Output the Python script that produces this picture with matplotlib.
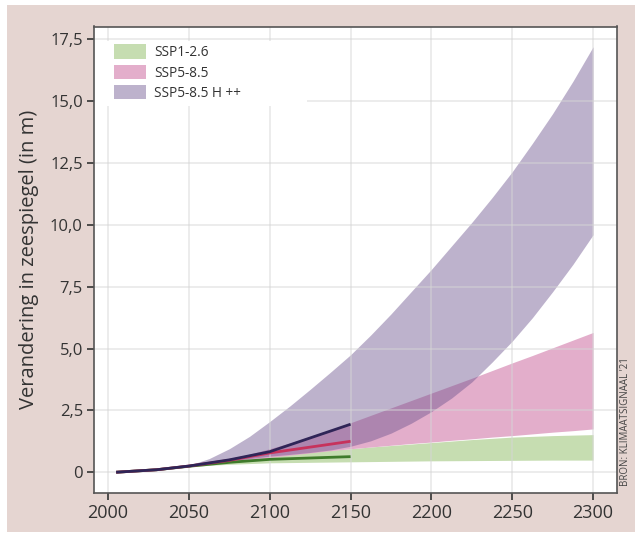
import matplotlib
matplotlib.use("Agg")
import matplotlib.pyplot as plt
from matplotlib.patches import Rectangle, Patch

plt.rcParams['font.family'] = ['Open Sans', 'DejaVu Sans']

# ------------------------- data -------------------------
band_years = [2050, 2062.5, 2075, 2087.5, 2100, 2112.5, 2125, 2137.5, 2150, 2162.5, 2175,
              2187.5, 2200, 2212.5, 2225, 2237.5, 2250, 2262.5, 2275, 2287.5, 2300]

ssp126_low = [0.22, 0.28, 0.32, 0.35, 0.38, 0.39, 0.40, 0.41, 0.42, 0.43, 0.44,
              0.45, 0.46, 0.465, 0.47, 0.475, 0.48, 0.485, 0.49, 0.49, 0.49]
ssp126_high = [0.28, 0.40, 0.50, 0.60, 0.68, 0.76, 0.83, 0.89, 0.95, 1.02, 1.08,
               1.14, 1.20, 1.26, 1.32, 1.37, 1.42, 1.45, 1.48, 1.50, 1.52]

ssp585_low = [0.24, 0.33, 0.42, 0.51, 0.60, 0.69, 0.78, 0.87, 0.95, 1.02, 1.09,
              1.16, 1.22, 1.29, 1.35, 1.42, 1.48, 1.55, 1.62, 1.68, 1.75]
ssp585_high = [0.28, 0.40, 0.55, 0.73, 0.95, 1.18, 1.45, 1.72, 2.00, 2.30, 2.60,
               2.90, 3.20, 3.50, 3.80, 4.11, 4.42, 4.72, 5.03, 5.34, 5.65]

hpp_low = [0.24, 0.34, 0.45, 0.55, 0.65, 0.72, 0.80, 0.90, 1.05, 1.27, 1.58,
           1.98, 2.45, 3.00, 3.65, 4.45, 5.30, 6.25, 7.30, 8.40, 9.60]
hpp_high = [0.28, 0.55, 0.95, 1.45, 2.05, 2.68, 3.35, 4.04, 4.75, 5.55, 6.40,
            7.30, 8.20, 9.15, 10.10, 11.10, 12.15, 13.30, 14.50, 15.80, 17.20]

line_years = [2005, 2030, 2050, 2075, 2100, 2150]
ssp126_median = [0.0, 0.10, 0.24, 0.40, 0.52, 0.63]
ssp585_median = [0.0, 0.10, 0.25, 0.48, 0.78, 1.25]
hpp_median = [0.0, 0.10, 0.25, 0.50, 0.83, 1.94]

labels = ['SSP1-2.6', 'SSP5-8.5', 'SSP5-8.5 H ++']
x_ticks = [2000, 2050, 2100, 2150, 2200, 2250, 2300]
y_ticks = [0, 2.5, 5.0, 7.5, 10.0, 12.5, 15.0, 17.5]
y_ticklabels = ['0', '2,5', '5,0', '7,5', '10,0', '12,5', '15,0', '17,5']
ylabel = 'Verandering in zeespiegel (in m)'
source = "BRON: KLIMAATSIGNAAL '21"

# ------------------------- style -------------------------
BG = '#e5d5d1'
GREEN_BAND = '#c6ddb1'
PINK_BAND = '#e3aecb'
PURPLE_BAND = '#6d548e'
PURPLE_ALPHA = 0.45
GREEN_LINE = '#3f7b2b'
RED_LINE = '#c7325c'
PURPLE_LINE = '#2f2557'
TEXT = '#333333'

W, H = 635, 535
AX_L, AX_R, AX_T, AX_B = 94, 617, 26.5, 493   # axes box in pixels

fig = plt.figure(figsize=(W / 100, H / 100), dpi=100, facecolor='white')
fig.patches.append(Rectangle((7 / W, 3 / H), 1 - 7 / W, 1 - 8 / H,
                             transform=fig.transFigure, facecolor=BG,
                             edgecolor='none', zorder=-10))

ax = fig.add_axes([AX_L / W, 1 - AX_B / H, (AX_R - AX_L) / W, (AX_B - AX_T) / H])
ax.set_facecolor('white')


def ax_xy(px, py):
    """pixel position -> axes fraction"""
    return (px - AX_L) / (AX_R - AX_L), (AX_B - py) / (AX_B - AX_T)


ax.fill_between(band_years, ssp126_low, ssp126_high, color=GREEN_BAND, lw=0, zorder=1)
ax.fill_between(band_years, ssp585_low, ssp585_high, color=PINK_BAND, lw=0, zorder=1.1)
ax.fill_between(band_years, hpp_low, hpp_high, color=PURPLE_BAND, alpha=PURPLE_ALPHA,
                lw=0, zorder=1.2)

ax.plot(line_years, ssp126_median, color=GREEN_LINE, lw=2.0, zorder=3,
        solid_capstyle='butt')
ax.plot(line_years, ssp585_median, color=RED_LINE, lw=2.0, zorder=3,
        solid_capstyle='butt')
ax.plot(line_years, hpp_median, color=PURPLE_LINE, lw=2.0, zorder=3.1,
        solid_capstyle='butt')

ax.set_axisbelow(False)
ax.grid(True, color='#d6d6d6', lw=1.1, alpha=0.6)

ax.set_xlim(1991.3, 2314.8)
ax.set_ylim(-0.84, 18.02)
ax.set_xticks(x_ticks)
ax.set_yticks(y_ticks)
ax.set_yticklabels(y_ticklabels)
ax.tick_params(axis='both', colors='#333333', length=5, width=1.2, pad=3,
               labelcolor=TEXT)
ax.tick_params(axis='x', labelsize=13)
ax.tick_params(axis='y', labelsize=12)
for sp in ax.spines.values():
    sp.set_color('#555555')
    sp.set_linewidth(1.2)
    sp.set_zorder(10)

ax.set_ylabel(ylabel, fontsize=14.5, color=TEXT, labelpad=8)

# white legend panel, wider than its content as in the original
x0, y1 = ax_xy(95, 41)
x1, y0 = ax_xy(307, 106)
ax.add_patch(Rectangle((x0, y0), x1 - x0, y1 - y0, transform=ax.transAxes,
                       facecolor='white', edgecolor='none', zorder=4))

handles = [Patch(facecolor=GREEN_BAND, edgecolor='none'),
           Patch(facecolor=PINK_BAND, edgecolor='none'),
           Patch(facecolor=PURPLE_BAND, alpha=PURPLE_ALPHA, edgecolor='none')]
leg = ax.legend(handles, labels, loc='upper left', bbox_to_anchor=ax_xy(114, 44.5),
                fontsize=9.8, frameon=False, handlelength=2.35, handleheight=1.22,
                handletextpad=0.59, labelspacing=0.35, borderpad=0, borderaxespad=0)
leg.set_zorder(5)
for t in leg.get_texts():
    t.set_color(TEXT)

fig.text(626 / W, 1 - 422 / H, source, rotation=90, fontsize=7,
         color='#444444', ha='center', va='center')

fig.savefig('out.png', dpi=100, facecolor=fig.get_facecolor())
